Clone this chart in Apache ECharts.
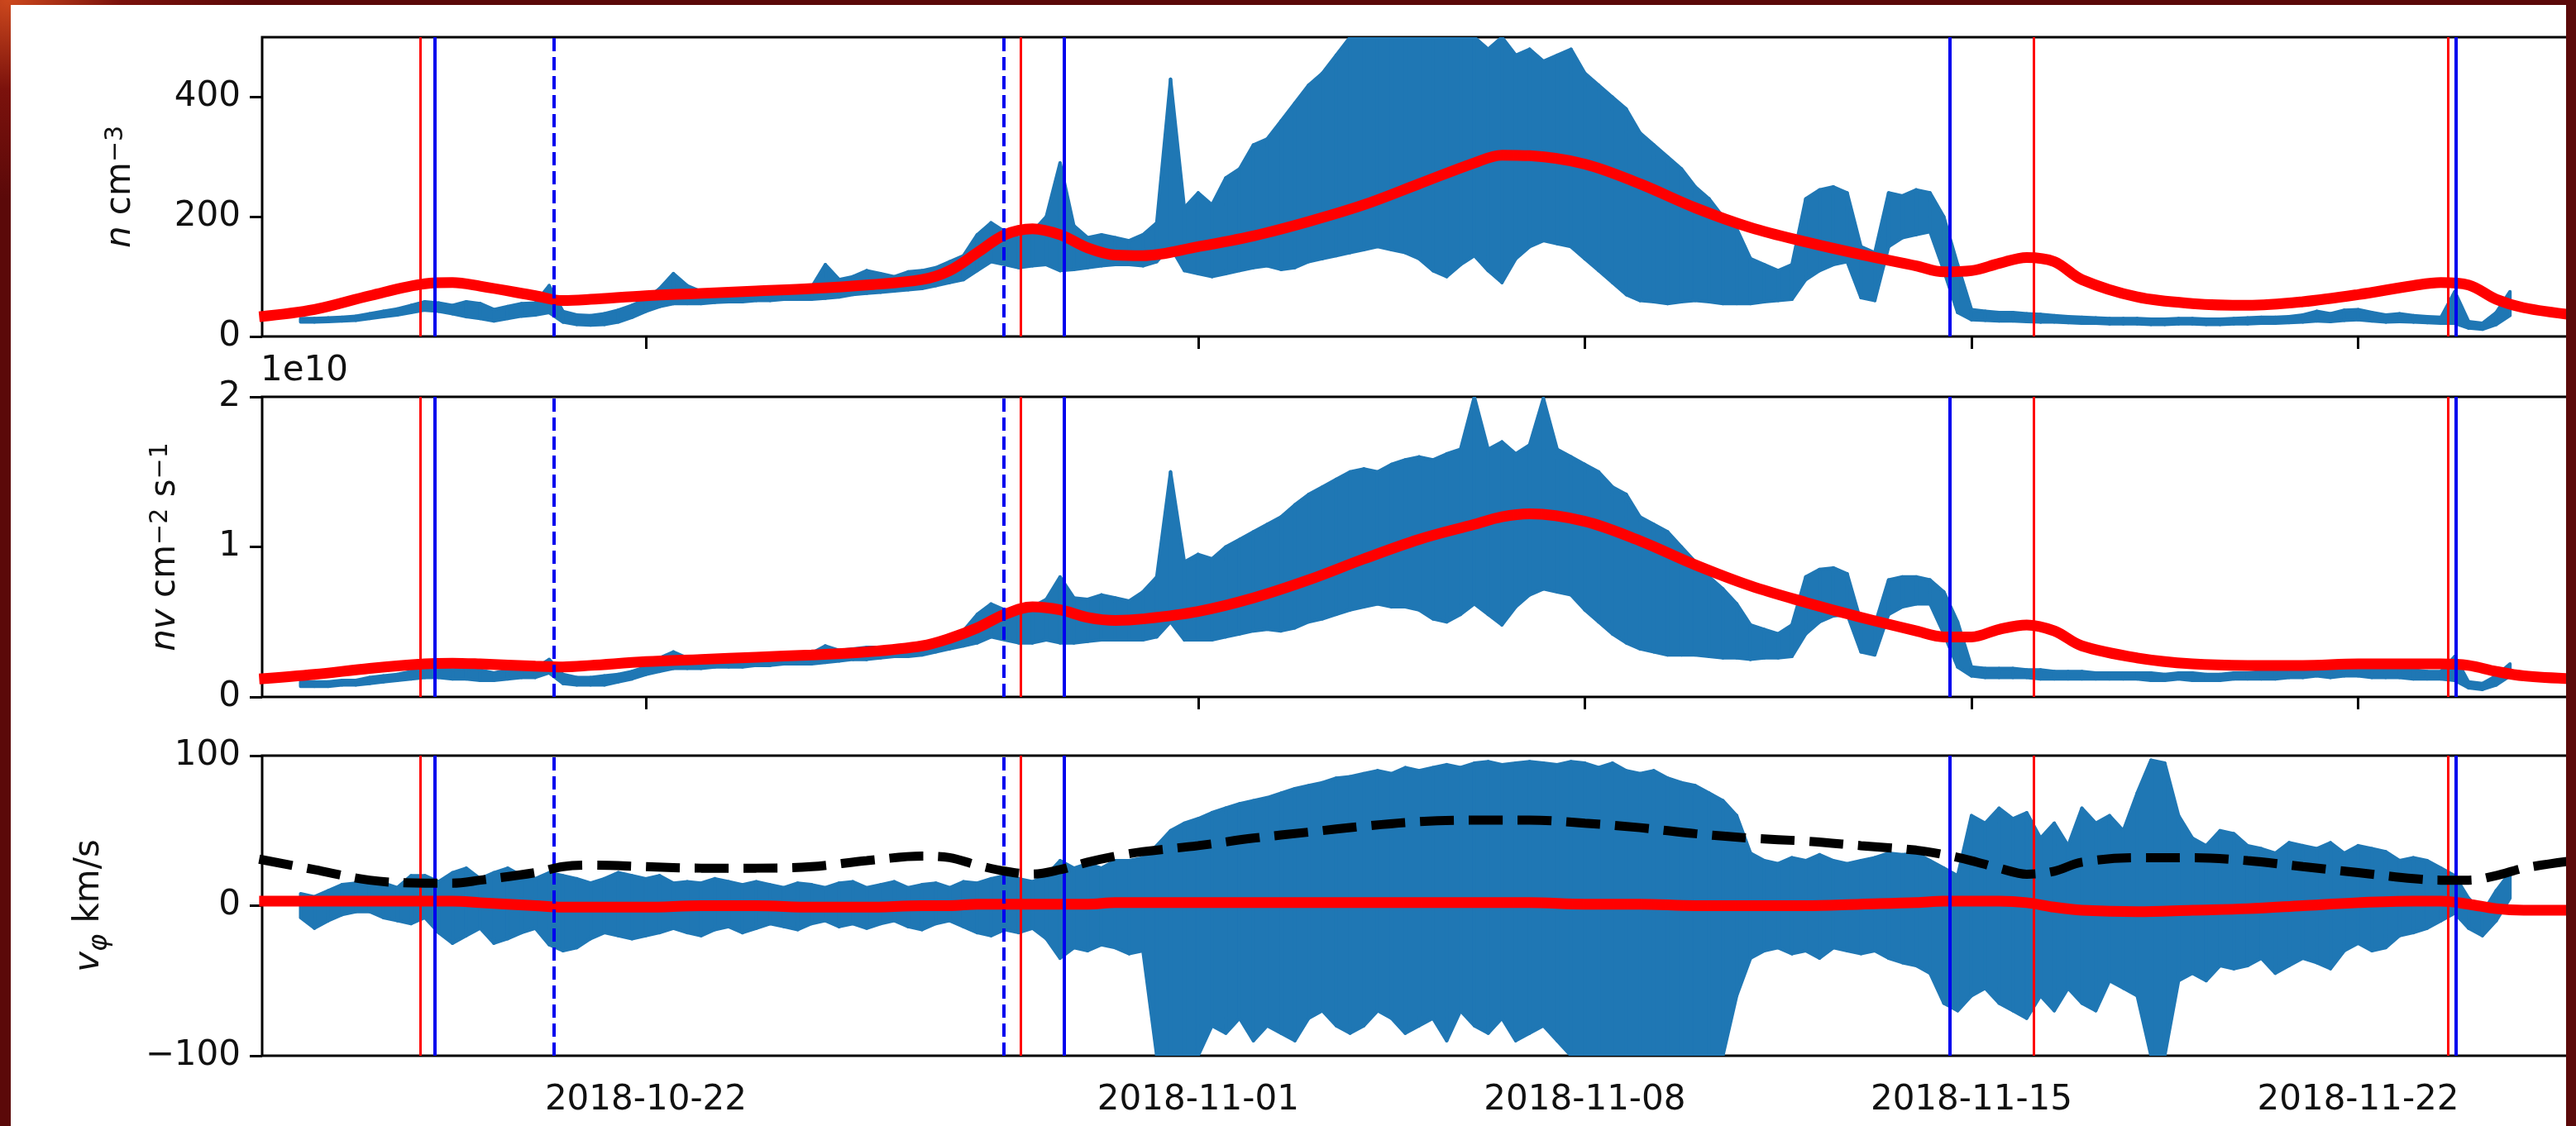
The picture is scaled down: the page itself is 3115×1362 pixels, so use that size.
<!DOCTYPE html>
<html><head><meta charset="utf-8">
<script src="https://cdn.jsdelivr.net/npm/echarts@6/dist/echarts.min.js"></script>
<style>
html,body{margin:0;padding:0;width:3115px;height:1362px;overflow:hidden;}
body{background:#5b0909;background-image:radial-gradient(ellipse 300px 240px at 10px 0px, rgba(210,75,30,0.95), rgba(150,25,15,0.55) 45%, rgba(91,9,9,0) 100%);}
#wrap{position:absolute;left:13px;top:6px;width:3090px;height:1356px;background:#fff;overflow:hidden;}
#chart{position:absolute;left:0;top:0;width:3200px;height:1356px;}
</style></head><body><div id="wrap"><div id="chart"></div></div>
<script>
// ---------- data (time in days since 2018-10-15 00:00 UTC) ----------
const START_DATE = '2018-10-15';
const STEP = 0.25;               // spacing of the blue (measured) samples, days
const X_MIN = 0.054, X_MAX = 41.9;
const tickDates = ['2018-10-22', '2018-11-01', '2018-11-08', '2018-11-15', '2018-11-22'];
const nTicks = [0, 200, 400];
const nvTicks = [0, 1, 2];       // units of 1e10
const vTicks = [-100, 0, 100];

// vertical event lines (days)
const vlRed = [2.913, 13.781, 32.135, 39.635];
const vlBlue = [3.183, 14.575, 30.608, 39.77];
const vlBlueDash = [5.338, 13.482];

// measured density n (cm^-3): low / high envelope per sample
const nLo = [
null,null,null,24, 24,25,26,27, 30,33,36,40, 44,42,38,33, 30,26,30,34,
36,40,24,20, 19,20,24,32, 42,50,55,55, 55,57,58,58, 60,60,62,62,
62,64,66,70, 72,74,76,78, 80,85,90,95, 110,125,120,115, 118,120,110,112,
115,118,120,120, 118,125,150,110, 105,100,105,110, 115,118,112,115, 125,130,135,140,
145,150,145,140, 130,110,100,120, 135,110,90,130, 150,160,155,150, 130,110,90,70,
60,58,55,58, 60,58,55,55, 55,58,60,62, 95,110,120,125, 65,60,150,165,
170,175,110,40, 28,27,26,26, 25,24,24,23, 22,22,21,21, 21,20,20,21,
21,20,20,21, 21,22,22,23, 24,26,25,27, 28,26,24,25, 24,23,22,22,
14,12,20,35, null,null,null,null];
const nHi = [
null,null,null,30, 30,31,32,34, 38,42,46,52, 58,56,52,58, 55,45,50,55,
56,85,42,36, 35,38,44,52, 62,80,105,85, 75,72,74,75, 76,78,80,80,
82,120,95,100, 110,105,100,108, 110,115,125,135, 170,190,175,165, 175,200,290,185,
165,170,165,160, 170,190,430,215, 240,220,265,280, 320,330,360,390, 420,440,470,500,
500,500,500,500, 500,500,500,500, 500,480,500,470, 480,460,470,480, 440,420,400,380,
340,320,300,280, 250,230,200,180, 130,120,110,120, 230,245,250,240, 150,140,240,235,
245,240,200,120, 45,42,40,40, 38,37,35,33, 32,31,30,30, 30,29,29,30,
30,29,29,30, 31,32,32,33, 36,42,38,44, 45,40,36,38, 35,33,32,75,
25,22,40,75, null,null,null,null];

// measured flux nv (units of 1e10 cm^-2 s^-1)
const nvLo = [
null,null,null,.07, .07,.07,.08,.08, .09,.10,.11,.12, .13,.13,.12,.12, .11,.11,.12,.13,
.13,.16,.09,.08, .08,.08,.10,.12, .15,.17,.19,.19, .19,.20,.20,.20, .21,.21,.22,.22,
.22,.23,.24,.25, .25,.26,.27,.27, .28,.30,.32,.34, .36,.40,.38,.36, .36,.38,.36,.36,
.37,.38,.38,.38, .38,.40,.50,.38, .38,.38,.40,.42, .44,.45,.44,.46, .50,.52,.55,.58,
.60,.62,.60,.60, .58,.52,.50,.55, .62,.55,.48,.60, .68,.72,.70,.68, .58,.50,.42,.36,
.32,.30,.28,.28, .28,.27,.26,.26, .25,.26,.26,.27, .42,.50,.54,.55, .30,.28,.55,.60,
.62,.62,.42,.20, .14,.13,.13,.13, .13,.12,.12,.12, .12,.12,.12,.12, .12,.11,.11,.12,
.11,.11,.11,.12, .12,.12,.12,.13, .13,.14,.13,.14, .14,.13,.13,.13, .12,.12,.12,.11,
.06,.05,.08,.14, null,null,null,null];
const nvHi = [
null,null,null,.10, .10,.10,.11,.11, .13,.14,.15,.17, .19,.19,.18,.19, .18,.16,.18,.19,
.19,.25,.15,.13, .13,.14,.15,.17, .20,.26,.30,.26, .25,.26,.26,.27, .27,.28,.28,.29,
.29,.34,.31,.32, .33,.33,.33,.34, .36,.38,.40,.44, .55,.62,.58,.56, .60,.65,.80,.66,
.65,.68,.66,.64, .70,.80,1.50,.90, .95,.92,1.00,1.05, 1.10,1.15,1.20,1.28, 1.35,1.40,1.45,1.50,
1.52,1.50,1.55,1.58, 1.60,1.58,1.62,1.65, 2.0,1.65,1.70,1.62, 1.68,1.99,1.65,1.60, 1.55,1.50,1.40,1.35,
1.20,1.15,1.10,1.00, .90,.80,.72,.62, .48,.45,.42,.48, .80,.85,.86,.82, .50,.48,.78,.80,
.80,.78,.70,.50, .20,.19,.19,.19, .18,.18,.17,.17, .17,.16,.16,.16, .16,.16,.15,.16,
.16,.15,.15,.16, .16,.17,.17,.18, .19,.21,.19,.21, .22,.20,.19,.19, .18,.17,.17,.27,
.10,.09,.14,.22, null,null,null,null];

// measured azimuthal velocity v_phi (km/s)
const vLo = [
null,null,null,-8, -15,-10,-6,-4, -4,-8,-10,-12, -8,-18,-25,-20, -15,-25,-22,-18,
-15,-26,-30,-28, -22,-18,-20,-22, -20,-18,-15,-18, -20,-16,-14,-18, -15,-12,-14,-16,
-12,-10,-14,-12, -15,-12,-10,-14, -16,-12,-10,-14, -18,-20,-16,-18, -15,-22,-35,-28,
-30,-26,-28,-32, -30,-100,-100,-100, -100,-80,-85,-75, -90,-80,-85,-90, -75,-70,-80,-85,
-80,-70,-75,-85, -80,-75,-90,-70, -80,-85,-75,-90, -85,-80,-90,-100, -100,-100,-100,-100,
-100,-100,-100,-100, -100,-100,-100,-60, -35,-30,-28,-32, -30,-35,-28,-30, -32,-30,-35,-38,
-40,-45,-65,-70, -60,-55,-65,-70, -75,-60,-70,-55, -65,-70,-50,-55, -60,-100,-100,-50,
-45,-50,-40,-42, -40,-35,-45,-40, -35,-38,-42,-30, -25,-30,-28,-20, -18,-15,-10,-5,
-15,-20,-10,5, null,null,null,null];
const vHi = [
null,null,null,8, 6,10,14,15, 18,15,12,20, 20,16,22,25, 18,22,25,20,
18,22,20,18, 15,18,22,20, 18,20,15,16, 15,18,16,14, 16,14,12,15,
14,12,15,16, 12,14,16,12, 14,15,12,16, 15,18,20,18, 16,20,30,25,
28,25,30,30, 32,40,50,55, 58,62,65,68, 70,72,75,78, 80,82,85,86,
88,90,88,92, 90,92,94,92, 95,96,94,95, 96,95,94,96, 95,92,95,90,
88,90,85,82, 80,75,70,60, 35,30,28,32, 30,34,30,28, 30,32,35,34,
35,30,25,20, 60,55,65,58, 62,45,55,40, 65,55,60,50, 75,97,95,60,
45,40,50,48, 40,38,35,42, 40,38,42,35, 40,38,36,30, 32,30,25,20,
5,-5,10,22, null,null,null,null];

// smoothed / model curves
const curveT = [0,1,2,3,3.5,4,5,5.5,6,7,8,9,10,11,12,12.5,13,13.5,14,14.5,15,15.5,16,17,18,19,20,21,22,22.5,23,24,25,26,27,28,29,30,30.5,31,31.5,32,32.5,33,34,35,36,37,38,39,39.5,40,40.5,41,41.9];
const nRed = [33,45,68,88,90,84,68,60,62,68,72,76,80,86,95,110,140,170,180,170,148,136,135,150,168,192,220,255,290,303,302,288,255,215,182,158,137,118,108,110,122,132,125,95,66,55,52,58,70,85,90,86,62,48,36];
const nvRed = [.12,.15,.19,.22,.225,.22,.205,.20,.21,.235,.25,.265,.28,.30,.34,.39,.46,.55,.60,.58,.53,.51,.52,.57,.66,.78,.92,1.05,1.15,1.20,1.22,1.17,1.04,.88,.74,.63,.53,.44,.40,.40,.45,.48,.44,.34,.26,.22,.21,.21,.22,.22,.22,.21,.17,.14,.12];
const vRed = [3,3,3,3,3,2,0,-1,-1,-1,0,0,-1,-1,0,0,1,1,1,1,1,2,2,2,2,2,2,2,2,2,2,1,1,0,0,0,1,2,3,3,3,2,-1,-3,-4,-3,-2,0,2,3,3,1,-2,-3,-3];
const vBlack = [31,24,17,15,15,17,22,26,27,26,25,25,26,30,33,32,27,23,21,24,29,33,36,40,45,49,53,56,57,57,57,55,52,48,45,43,40,37,34,30,25,21,23,29,32,32,30,26,22,18,17,17,20,25,30];

// ---------- styling ----------
const FONT = 'DejaVu Sans';
const TXT = '#111';
const BLUE = '#1f77b4', RED = '#ff0000', VBLUE = '#0000ee';
const GL = 304, GW = 2795;
const panels = [{top: 39, height: 362}, {top: 474, height: 363}, {top: 908, height: 363}];

function dayOf(s) { return (Date.parse(s + 'T00:00:00Z') - Date.parse(START_DATE + 'T00:00:00Z')) / 86400000; }
const tickDays = tickDates.map(dayOf);
function zip(t, v) { return t.map((x, i) => [x, v[i]]); }
function bandData(lo, hi) {
  const out = [];
  for (let i = 0; i < lo.length - 1; i++) {
    if (lo[i] == null || lo[i + 1] == null) continue;
    out.push([i * STEP, lo[i], hi[i], (i + 1) * STEP, lo[i + 1], hi[i + 1]]);
  }
  return out;
}
function bandRender(params, api) {
  const a = api.coord([api.value(0), api.value(1)]);
  const b = api.coord([api.value(3), api.value(4)]);
  const c = api.coord([api.value(3), api.value(5)]);
  const d = api.coord([api.value(0), api.value(2)]);
  return {type: 'polygon', shape: {points: [a, b, c, d]},
    style: {fill: BLUE, stroke: BLUE, lineWidth: 4, lineJoin: 'round'}};
}
const minus = v => (v < 0 ? '\u2212' + Math.abs(v) : String(v));

const grids = panels.map(p => ({left: GL, width: GW, top: p.top, height: p.height,
  show: true, borderColor: '#000', borderWidth: 3, backgroundColor: '#fff'}));

const xAxes = [0, 1, 2].map(i => ({
  type: 'value', gridIndex: i, min: X_MIN, max: X_MAX,
  axisLine: {show: false}, splitLine: {show: false},
  axisTick: {show: true, customValues: tickDays, length: 15, lineStyle: {color: '#000', width: 3}},
  axisLabel: {show: i === 2, customValues: tickDays, margin: 33, fontFamily: FONT, fontSize: 42, color: TXT,
    formatter: v => { const k = tickDays.findIndex(d => Math.abs(d - v) < 1e-6); return k >= 0 ? tickDates[k] : ''; }}
}));

const richBase = {fontFamily: FONT, fontSize: 42, color: TXT};
function yAx(i, min, max, ticks, name, gap) {
  return {type: 'value', gridIndex: i, min: min, max: max,
    axisLine: {show: false}, splitLine: {show: false},
    axisTick: {show: true, customValues: ticks, length: 15, lineStyle: {color: '#000', width: 3}},
    axisLabel: {customValues: ticks, margin: 26, fontFamily: FONT, fontSize: 42, color: TXT, formatter: minus},
    name: name, nameLocation: 'middle', nameRotate: 90, nameGap: gap,
    nameTextStyle: Object.assign({}, richBase, {rich: {
      i: {fontFamily: FONT, fontSize: 42, fontStyle: 'italic', color: TXT},
      n: {fontFamily: FONT, fontSize: 42, color: TXT},
      s: {fontFamily: FONT, fontSize: 30, color: TXT, verticalAlign: 'top'},
      b: {fontFamily: FONT, fontSize: 32, fontStyle: 'italic', color: TXT, verticalAlign: 'bottom', padding: [0, 0, -8, 0]}
    }})};
}
const yAxes = [
  yAx(0, 0, 500, nTicks, '{i|n}{n| cm}{s|\u22123}', 150),
  yAx(1, 0, 2, nvTicks, '{i|nv}{n| cm}{s|\u22122}{n| s}{s|\u22121}', 96),
  yAx(2, -100, 100, vTicks, '{i|v}{b|\u03c6}{n| km/s}', 188)
];

function vlineSeries(i, yMin) {
  const data = [];
  vlBlueDash.forEach(x => data.push({xAxis: x, lineStyle: {color: VBLUE, width: 4, type: [16, 7]}}));
  vlRed.forEach(x => data.push({xAxis: x, lineStyle: {color: RED, width: 3, type: 'solid'}}));
  vlBlue.forEach(x => data.push({xAxis: x, lineStyle: {color: VBLUE, width: 4, type: 'solid'}}));
  return {type: 'line', xAxisIndex: i, yAxisIndex: i, data: [[X_MIN, yMin]], symbol: 'none',
    lineStyle: {opacity: 0}, silent: true, z: 3,
    markLine: {symbol: ['none', 'none'], silent: true, label: {show: false}, animation: false, data: data}};
}
function bandSeries(i, lo, hi) {
  return {type: 'custom', xAxisIndex: i, yAxisIndex: i, clip: true, z: 2, silent: true,
    encode: {x: [0, 3], y: [1, 2, 4, 5]}, data: bandData(lo, hi), renderItem: bandRender};
}
function curve(i, vals, color, width, type, z) {
  return {type: 'line', xAxisIndex: i, yAxisIndex: i, data: zip(curveT, vals), smooth: 0.35,
    showSymbol: false, symbol: 'none', clip: true, z: z, silent: true,
    lineStyle: {color: color, width: width, type: type, cap: 'butt'}};
}

const series = [
  bandSeries(0, nLo, nHi), vlineSeries(0, 0), curve(0, nRed, RED, 13, 'solid', 4),
  bandSeries(1, nvLo, nvHi), vlineSeries(1, 0), curve(1, nvRed, RED, 13, 'solid', 4),
  bandSeries(2, vLo, vHi), vlineSeries(2, -100), curve(2, vRed, RED, 13, 'solid', 4),
  curve(2, vBlack, '#000', 11, [41, 18], 5)
];

const chart = echarts.init(document.getElementById('chart'), null, {renderer: 'canvas'});
chart.setOption({
  animation: false,
  backgroundColor: '#fff',
  grid: grids, xAxis: xAxes, yAxis: yAxes, series: series,
  graphic: [{type: 'text', left: GL - 2, top: panels[1].top - 52,
    style: {text: '1e10', fontFamily: FONT, fontSize: 42, fill: TXT}}]
});
</script></body></html>
